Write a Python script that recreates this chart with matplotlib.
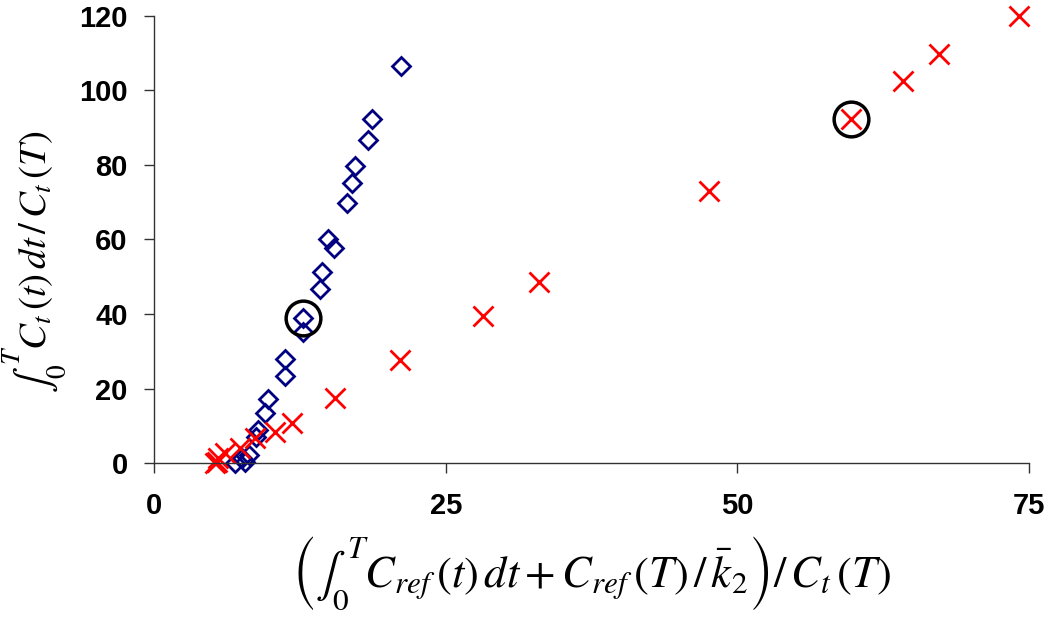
import matplotlib
matplotlib.use("Agg")
from matplotlib import pyplot as plt

# blue diamonds
diamond_x = [6.9, 7.8, 7.5, 8.1, 8.7, 8.9, 9.5, 9.8, 11.2, 11.2, 12.75, 12.8,
             14.2, 14.4, 15.4, 14.9, 16.5, 17.0, 17.2, 18.3, 18.7, 21.2]
diamond_y = [0.0, 0.3, 1.3, 2.1, 7.1, 8.9, 13.4, 17.2, 23.4, 27.8, 35.3, 38.8,
             46.6, 51.2, 57.6, 60.0, 69.7, 75.2, 79.7, 86.7, 92.3, 106.6]

# red crosses
cross_x = [5.2, 5.4, 5.5, 6.1, 7.4, 8.65, 10.4, 11.8, 15.5, 21.1, 28.2, 33.0,
           47.6, 59.7, 64.2, 67.3, 74.1]
cross_y = [0.0, 0.4, 1.3, 2.6, 3.9, 6.6, 8.4, 10.7, 17.4, 27.7, 39.5, 48.6,
           73.0, 92.3, 102.5, 109.8, 120.0]

# circled points
circle_x = [12.8, 59.7]
circle_y = [39.0, 92.3]

plt.rcParams['mathtext.fontset'] = 'stix'

fig = plt.figure(figsize=(10.5, 6.32), dpi=100)
ax = fig.add_axes([0.1467, 0.2674, 0.8333, 0.7073])

ax.plot(diamond_x, diamond_y, linestyle='none', marker='D', ms=9,
        mfc='none', mec='#000080', mew=2, clip_on=False)
ax.plot(cross_x, cross_y, linestyle='none', marker='x', ms=15,
        mec='#ff0000', mew=2, clip_on=False)
ax.plot(circle_x, circle_y, linestyle='none', marker='o', ms=25,
        mfc='none', mec='black', mew=2.5, clip_on=False)

ax.set_xlim(0, 75)
ax.set_ylim(0, 120)
ax.set_xticks([0, 25, 50, 75])
ax.set_yticks([0, 20, 40, 60, 80, 100, 120])

for s in ['top', 'right']:
    ax.spines[s].set_visible(False)
for s in ['left', 'bottom']:
    ax.spines[s].set_color('#333333')
    ax.spines[s].set_linewidth(1)

ax.tick_params(direction='out', length=7, width=1, color='#333333',
               labelsize=21)
ax.tick_params(axis='x', pad=14)
ax.tick_params(axis='y', pad=12)
for lab in ax.get_xticklabels() + ax.get_yticklabels():
    lab.set_fontweight('bold')
    lab.set_family('Liberation Sans')

ax.set_ylabel(r'$\int_0^T C_t\,(t)\,dt\,/\,C_t\,(T)$', fontsize=28)
ax.yaxis.set_label_coords(-0.098, 0.45)
ax.set_xlabel(r'$\left(\int_0^T C_{ref}\,(t)\,dt + C_{ref}\,(T)\,/\,\bar{k}_2\right)/\,C_t\,(T)$',
              fontsize=32, labelpad=10)

fig.savefig('out.png', dpi=100)
